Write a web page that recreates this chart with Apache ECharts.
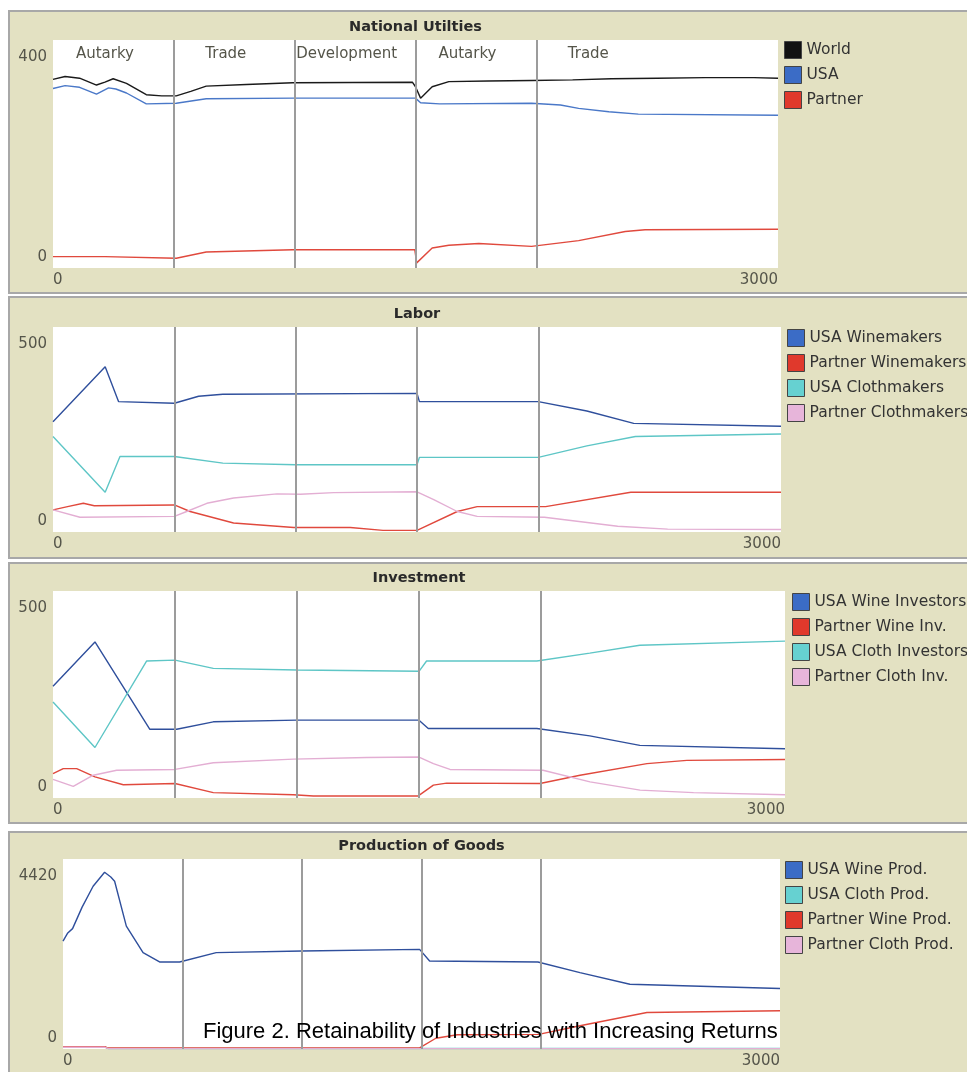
<!DOCTYPE html>
<html>
<head>
<meta charset="utf-8">
<style>
  html, body { margin: 0; padding: 0; background: #ffffff; }
  #chart { width: 967px; height: 1072px; }
</style>
<script src="https://cdn.jsdelivr.net/npm/echarts@6/dist/echarts.min.js"></script>
</head>
<body>
<div id="chart"></div>
<script>
// ---------- data (x = tick, y = value) ----------
const xMax = 3000;
const phaseStarts = [0, 500, 1000, 1500, 2000];
const phaseNames = ['Autarky', 'Trade', 'Development', 'Autarky', 'Trade'];
const phaseBreaks = [500, 1000, 1500, 2000];

const panelTitles = ['National Utilties', 'Labor', 'Investment', 'Production of Goods'];
const panelMax = [400, 500, 500, 4420];

// National Utilties
const utilNames = ['World', 'USA', 'Partner'];
const worldUtil = [[0,331],[50,336],[110,333],[180,321],[215,326],[249,332],[304,324],[386,304],[450,302],[510,302],[570,310],[634,319],[800,322],[992,325],[1487,326],[1500,318],[1521,298],[1569,318],[1638,327],[1800,328],[1980,329],[2150,330],[2311,332],[2500,333],[2700,334],[2900,334],[3000,333]];
const usaUtil = [[0,315],[50,320],[110,317],[180,305],[230,316],[260,314],[304,307],[386,288],[510,289],[634,297],[1000,298],[1500,298],[1521,290],[1600,288],[1980,289],[2100,286],[2175,280],[2300,274],[2422,270],[3000,268]];
const partnerUtil = [[0,20],[215,20],[222,17],[510,17],[634,28],[992,32],[1497,32],[1505,9],[1569,35],[1638,40],[1762,43],[1980,38],[2175,48],[2368,64],[2450,67],[3000,68]];

// Labor
const laborNames = ['USA Winemakers', 'Partner Winemakers', 'USA Clothmakers', 'Partner Clothmakers'];
const usaWinemakers = [[0,269],[215,403],[270,318],[500,314],[600,331],[700,336],[1500,338],[1510,318],[2000,318],[2200,295],[2393,265],[3000,258]];
const partnerWinemakers = [[0,54],[60,62],[125,70],[170,64],[500,66],[565,50],[744,22],[992,11],[1225,11],[1360,4],[1500,4],[1666,50],[1748,62],[2030,62],[2381,97],[3000,97]];
const usaClothmakers = [[0,233],[215,97],[276,184],[500,184],[700,168],[1000,164],[1500,164],[1510,182],[2000,182],[2200,210],[2400,233],[3000,239]];
const partnerClothmakers = [[0,54],[111,36],[500,38],[551,50],[634,70],[744,83],[923,93],[1019,92],[1157,96],[1500,98],[1569,79],[1666,50],[1748,38],[2025,36],[2327,14],[2533,7],[3000,6]];

// Investment
const investNames = ['USA Wine Investors', 'Partner Wine Inv.', 'USA Cloth Investors', 'Partner Cloth Inv.'];
const usaWineInv = [[0,270],[172,377],[397,166],[507,166],[657,184],[1000,188],[1500,188],[1538,168],[1983,168],[2200,150],[2405,127],[3000,119]];
const partnerWineInv = [[0,59],[42,71],[97,71],[172,51],[288,32],[500,35],[657,13],[985,8],[1067,5],[1497,5],[1559,31],[1613,36],[1996,35],[2160,55],[2434,83],[2598,91],[3000,93]];
const usaClothInv = [[0,232],[172,122],[384,331],[500,333],[657,313],[1000,309],[1500,306],[1531,331],[1983,331],[2200,350],[2405,369],[3000,379]];
const partnerClothInv = [[0,45],[83,28],[165,55],[261,67],[500,69],[657,85],[985,94],[1286,98],[1500,99],[1559,83],[1627,69],[2008,67],[2201,39],[2406,19],[2625,13],[3000,8]];

// Production of Goods
const prodNames = ['USA Wine Prod.', 'USA Cloth Prod.', 'Partner Wine Prod.', 'Partner Cloth Prod.'];
const usaWineProd = [[0,2511],[20,2700],[40,2800],[80,3300],[126,3786],[174,4111],[200,4000],[216,3902],[265,2859],[335,2241],[404,2025],[488,2025],[641,2241],[1000,2280],[1492,2318],[1534,2048],[1987,2025],[2163,1777],[2372,1507],[3000,1406]];
const usaClothProd = [[0,45],[176,45],[190,12],[3000,12]];
const partnerWineProd = [[0,55],[176,55],[185,25],[1492,25],[1560,250],[1650,330],[1990,340],[2163,541],[2443,850],[3000,889]];
const partnerClothProd = [[0,40],[176,40],[190,8],[3000,8]];

const caption = 'Figure 2. Retainability of Industries with Increasing Returns';

// ---------- layout & style ----------
const FONT = 'DejaVu Sans';
const grids = [
  { left: 53, top: 40,  width: 725, height: 228 },
  { left: 53, top: 327, width: 728, height: 205 },
  { left: 53, top: 591, width: 732, height: 207 },
  { left: 63, top: 859, width: 717, height: 190 }
];
const panels = [
  { y: 11,  h: 282 },
  { y: 297, h: 261 },
  { y: 563, h: 260 },
  { y: 832, h: 260 }
];
const legendTops = [41, 329, 593, 861];
const legendLefts = [784, 787, 792, 785];

const C = {
  black: { legend: '#111111', line: '#1a1a1a' },
  blue1: { legend: '#3b6cc6', line: '#4a78c8' },
  blue:  { legend: '#3b6cc6', line: '#2f4f9c' },
  red:   { legend: '#e0392c', line: '#e0493d' },
  cyan:  { legend: '#66d1d1', line: '#5ec6c6' },
  pink:  { legend: '#e7b5da', line: '#e3aed3' }
};

const seriesDefs = [
  [ [utilNames[0], worldUtil, C.black], [utilNames[1], usaUtil, C.blue1], [utilNames[2], partnerUtil, C.red] ],
  [ [laborNames[0], usaWinemakers, C.blue], [laborNames[1], partnerWinemakers, C.red], [laborNames[2], usaClothmakers, C.cyan], [laborNames[3], partnerClothmakers, C.pink] ],
  [ [investNames[0], usaWineInv, C.blue], [investNames[1], partnerWineInv, C.red], [investNames[2], usaClothInv, C.cyan], [investNames[3], partnerClothInv, C.pink] ],
  [ [prodNames[0], usaWineProd, C.blue], [prodNames[1], usaClothProd, C.cyan], [prodNames[2], partnerWineProd, C.red], [prodNames[3], partnerClothProd, C.pink] ]
];

const labelStyle = { fontFamily: FONT, fontSize: 15, color: '#55554a' };

const gridOpts = [], xAxes = [], yAxes = [], series = [], legends = [], titles = [], graphics = [];

grids.forEach((g, i) => {
  const M = panelMax[i];
  gridOpts.push({ left: g.left, top: g.top, width: g.width, height: g.height, show: true, backgroundColor: '#ffffff', borderWidth: 0, containLabel: false });
  xAxes.push({
    gridIndex: i, type: 'value', min: 0, max: xMax, interval: xMax,
    axisLine: { show: false }, axisTick: { show: false }, splitLine: { show: false },
    axisLabel: Object.assign({ margin: 5, alignMinLabel: 'left', alignMaxLabel: 'right',
      formatter: v => String(v) }, labelStyle)
  });
  yAxes.push({
    gridIndex: i, type: 'value', min: 0, max: M, interval: M, position: 'left',
    axisLine: { show: false }, axisTick: { show: false }, splitLine: { show: false },
    axisLabel: Object.assign({ margin: 6, verticalAlign: 'top', padding: [10, 0, 0, 0],
      formatter: v => (v === M ? String(M) : '') }, labelStyle)
  });
  yAxes.push({
    gridIndex: i, type: 'value', min: 0, max: M, interval: M, position: 'left',
    axisLine: { show: false }, axisTick: { show: false }, splitLine: { show: false },
    axisLabel: Object.assign({ margin: 6, verticalAlign: 'bottom', padding: [0, 0, 3, 0],
      formatter: v => (v === 0 ? '0' : '') }, labelStyle)
  });

  seriesDefs[i].forEach(([name, pts, col], k) => {
    const s = {
      type: 'line', name: name, xAxisIndex: i, yAxisIndex: i * 2, data: pts,
      symbol: 'none', showSymbol: false, animation: false, z: 3,
      itemStyle: { color: col.legend },
      lineStyle: { color: col.line, width: 1.4 }
    };
    if (k === 0) {
      s.markLine = {
        silent: true, symbol: 'none', animation: false,
        label: { show: false },
        lineStyle: { color: '#9c9c9c', width: 2, type: 'solid' },
        data: phaseBreaks.map(v => ({ xAxis: v }))
      };
      if (i === 0) {
        s.markPoint = {
          silent: true, animation: false, symbol: 'rect', symbolSize: 1,
          itemStyle: { color: 'rgba(0,0,0,0)' },
          label: { show: true, position: 'inside', formatter: '{b}', fontFamily: FONT, fontSize: 15, color: '#55554a' },
          data: phaseNames.map((n, j) => ({ name: n, coord: [phaseStarts[j] + 215, M * 0.94] }))
        };
      }
    }
    series.push(s);
  });

  legends.push({
    data: seriesDefs[i].map(d => d[0]),
    orient: 'vertical', left: legendLefts[i], top: legendTops[i],
    icon: 'rect', itemWidth: 17, itemHeight: 17, itemGap: 7, padding: 0,
    selectedMode: false,
    itemStyle: { borderColor: '#444444', borderWidth: 1 },
    textStyle: { fontFamily: FONT, fontSize: 15.5, color: '#333333', padding: [0, 0, 0, 0] }
  });

  titles.push({
    text: panelTitles[i], left: g.left + g.width / 2, top: g.top - 20, textAlign: 'center', padding: 0,
    textStyle: { fontFamily: FONT, fontSize: 14.5, fontWeight: 'bold', color: '#2a2a2a' }
  });

  graphics.push({
    type: 'rect', z: -10, silent: true,
    shape: { x: 9, y: panels[i].y, width: 980, height: panels[i].h },
    style: { fill: '#e3e1c2', stroke: '#a8a8a8', lineWidth: 2 }
  });
});

titles.push({
  text: caption, left: 203, top: 1021, padding: 0,
  textStyle: { fontFamily: 'Liberation Sans', fontSize: 22, fontWeight: 'normal', color: '#000000' }
});

const chart = echarts.init(document.getElementById('chart'), null, { renderer: 'canvas' });
chart.setOption({
  backgroundColor: '#ffffff',
  animation: false,
  title: titles,
  legend: legends,
  grid: gridOpts,
  xAxis: xAxes,
  yAxis: yAxes,
  series: series,
  graphic: { elements: graphics }
});
</script>
</body>
</html>
